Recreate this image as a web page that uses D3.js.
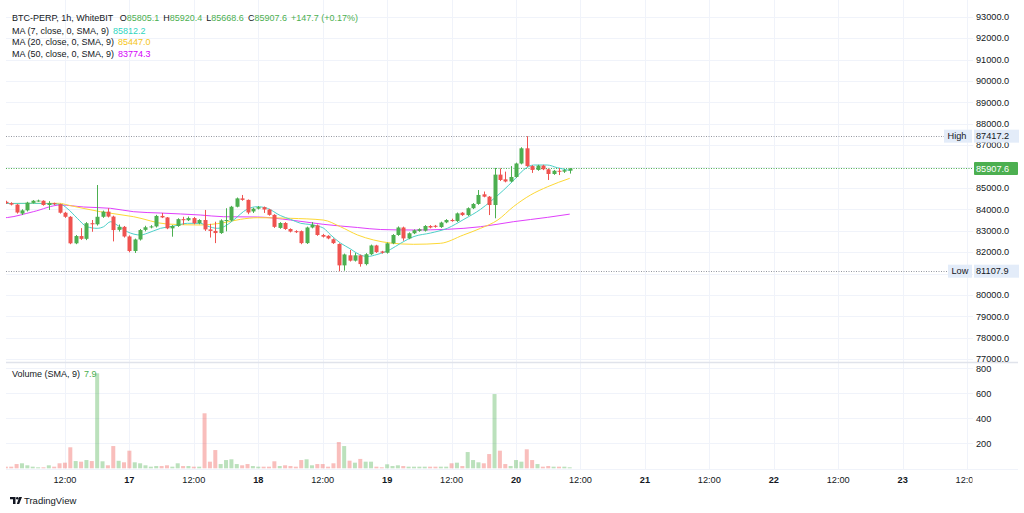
<!DOCTYPE html>
<html>
<head>
<meta charset="utf-8">
<script src="https://cdn.jsdelivr.net/npm/d3@7"></script>
<style>
  html, body { margin: 0; padding: 0; background: #fff; }
  svg { display: block; font-family: "Liberation Sans", Arial, sans-serif; }
</style>
</head>
<body>
<svg id="chart" width="1024" height="513"></svg>
<script>
// BTC-PERP 1h candles, first candle 16 Mar 2025 01:00 (UTC)
const firstCandle = Date.UTC(2025, 2, 16, 1);
const opens = [84350, 84290, 84220, 83800, 83950, 84300, 84390, 84400, 84200, 84290, 84240, 83840, 83650, 82410, 82750, 82620, 83350, 83300, 83650, 83890,
  83660, 83040, 83180, 82730, 82050, 82590, 83040, 83160, 83200, 83690, 83620, 83110, 83220, 83540, 83490, 83590, 83350, 83500, 83060, 82990,
  82890, 83460, 83480, 84120, 84510, 84440, 83900, 84030, 84100, 83990, 83740, 83130, 83360, 83080, 82980, 82980, 82420, 83150, 83250, 82800,
  82760, 82600, 82380, 81380, 81850, 81600, 81850, 81440, 81900, 82310, 82030, 81970, 82410, 82800, 83150, 82640, 82880, 82990, 83000, 83220,
  83230, 83170, 83390, 83500, 83450, 83840, 83730, 84050, 84250, 84700, 84590, 84200, 85620, 85400, 85300, 85510, 86140, 86850, 86020, 85840,
  86040, 85870, 85650, 85800, 85760, 85805.1];
const highs = [84400, 84330, 84250, 84000, 84350, 84430, 84450, 84420, 84380, 84310, 84260, 83880, 83680, 82800, 83120, 83400, 83500, 85135, 83940, 84050,
  83700, 83290, 83220, 82780, 82630, 83080, 83230, 83260, 83740, 83830, 83640, 83260, 83580, 83650, 83660, 83640, 83540, 83970, 83320, 83420,
  83530, 84050, 84160, 84550, 84670, 84460, 84070, 84150, 84130, 84020, 83770, 83400, 83400, 83110, 83020, 83010, 83190, 83400, 83290, 82850,
  82790, 82640, 82410, 81930, 82100, 81960, 81880, 81950, 82350, 82340, 82060, 82450, 82840, 83200, 83190, 82920, 83060, 83110, 83260, 83260,
  83270, 83420, 83540, 83560, 83850, 83870, 84090, 84290, 84900, 84830, 84620, 85930, 85910, 85760, 86020, 86180, 86900, 87417.2, 86060, 86080,
  86080, 85900, 85840, 85930, 85880, 85920.4];
const lows = [84250, 84180, 83800, 83730, 83900, 84270, 84350, 84170, 83970, 84200, 83800, 83600, 82370, 82370, 82570, 82560, 82950, 83240, 83600, 83620,
  82500, 82960, 82680, 81990, 81960, 82540, 82970, 83110, 83150, 83590, 83070, 82720, 83180, 83280, 83450, 83300, 83300, 82990, 82680, 82420,
  82850, 82970, 83440, 84090, 84400, 83770, 83830, 83990, 83830, 83700, 83130, 83090, 83040, 82920, 82890, 82370, 82380, 83110, 82760, 82680,
  82600, 82380, 81107.9, 81130, 81560, 81560, 81320, 81380, 81860, 81960, 81930, 81930, 82370, 82760, 82530, 82600, 82840, 82950, 82960, 83110,
  83140, 83130, 83350, 83420, 83410, 83690, 83690, 84010, 84210, 84560, 83730, 83580, 85320, 85260, 85260, 85470, 86100, 85980, 85700, 85800,
  85830, 85370, 85610, 85600, 85700, 85668.6];
const closes = [84290, 84220, 83850, 83950, 84310, 84400, 84410, 84200, 84290, 84240, 83840, 83650, 82410, 82750, 82620, 83350, 83300, 83650, 83890, 83660,
  83030, 83180, 82730, 82050, 82590, 83030, 83160, 83200, 83690, 83620, 83110, 83220, 83540, 83490, 83590, 83350, 83500, 83060, 82990, 82890,
  83480, 83500, 84120, 84510, 84440, 83850, 84030, 84100, 83990, 83740, 83180, 83360, 83080, 82960, 82930, 82420, 83150, 83280, 82800, 82720,
  82640, 82420, 81380, 81890, 81600, 81850, 81440, 81900, 82310, 82000, 81970, 82410, 82800, 83150, 82640, 82880, 83020, 83070, 83220, 83150,
  83180, 83380, 83500, 83450, 83810, 83730, 84050, 84250, 84670, 84590, 84200, 85620, 85370, 85300, 85510, 86140, 86850, 86020, 85840, 86040,
  85870, 85650, 85800, 85760, 85830, 85907.6];
const volumes = [13, 13, 34, 40, 24, 13, 8, 8, 24, 13, 40, 45, 168, 58, 53, 66, 58, 760, 56, 24,
  178, 60, 48, 141, 48, 40, 24, 13, 18, 18, 24, 13, 40, 18, 18, 13, 13, 440, 53, 146,
  34, 66, 72, 34, 24, 34, 18, 13, 13, 13, 56, 18, 24, 18, 13, 66, 72, 24, 34, 34,
  13, 40, 210, 178, 61, 45, 75, 53, 53, 13, 8, 32, 18, 24, 18, 13, 13, 13, 13, 13,
  13, 13, 13, 40, 45, 18, 130, 66, 48, 40, 114, 594, 141, 34, 18, 66, 53, 152, 66, 34,
  13, 18, 13, 13, 13, 8];

// moving averages: [hours after 16 Mar 00:00, value]
const ma7 = [[0, 84270], [6, 84280], [11.2, 84233], [12.4, 84046], [14.3, 83579], [16.1, 83186], [18, 83111], [19.2, 83186], [20.5, 83420], [21.7, 83266],
  [23.6, 82953], [26.1, 82799], [27.3, 82877], [29.8, 83111], [32.3, 83219], [34.8, 83345], [37.2, 83345], [38.5, 83219], [40.4, 83111], [41.6, 83186],
  [43.4, 83499], [45.9, 84000], [47.8, 84121], [49.7, 84046], [52.1, 83710], [54, 83532], [55.9, 83345], [57.7, 83289], [59, 83219], [60.2, 83111],
  [61.5, 82799], [63.3, 82425], [65.2, 82144], [66.4, 81943], [68.3, 81794], [70.1, 81887], [72.6, 82121], [74.5, 82410], [77, 82728], [80.1, 82892],
  [83.2, 83111], [86.3, 83532], [89.4, 84000], [91.2, 84355], [93.7, 84901], [95.6, 85369], [97.4, 85836], [99.3, 86069], [101.8, 86069], [103.7, 85943],
  [106, 85812.2]];
const ma20 = [[0, 84270], [11, 84280], [12.5, 84200], [18.6, 83887], [24.8, 83654], [31, 83312], [37.2, 83266], [41.5, 83373], [44.7, 83532], [47.9, 83607],
  [54, 83579], [60.1, 83499], [63.3, 83186], [66.5, 82799], [69.5, 82565], [72.6, 82425], [76.9, 82364], [81.9, 82410], [86.2, 82799], [89.4, 83111],
  [92.6, 83499], [95.5, 84121], [98.7, 84668], [101.9, 85056], [106, 85447.0]];
const ma50 = [[0, 83593], [1.3, 83616], [6.1, 83887], [11.2, 84200], [15.5, 84107], [20.5, 84046], [24.8, 83887], [29.8, 83826], [37.2, 83733], [41.5, 83654],
  [47.9, 83640], [54, 83499], [60.1, 83299], [66.5, 83149], [70.8, 83055], [76.9, 83032], [83.2, 83065], [89.4, 83186], [95.5, 83420], [101.9, 83625],
  [106, 83774.3]];

const priceTicks = [77000, 78000, 79000, 80000, 81000, 82000, 83000, 84000, 85000, 86000, 87000, 88000, 89000, 90000, 91000, 92000, 93000];
const hiddenPriceTicks = [81000, 86000]; // covered by the Low / last price labels
const volumeTicks = [200, 400, 600, 800];
const timeTickHours = [12, 24, 36, 48, 60, 72, 84, 96, 108, 120, 132, 144, 156, 168, 180];
const timeTickLabels = ["12:00", "17", "12:00", "18", "12:00", "19", "12:00", "20", "12:00", "21", "12:00", "22", "12:00", "23", "12:00"];

const upColor = "#4caf50", downColor = "#ef5350";
const upVol = "rgba(76,175,80,0.38)", downVol = "rgba(239,83,80,0.38)";
const textColor = "#131722";
const gridColor = "#f0f3fa";

const candles = opens.map((o, i) => ({
  t: new Date(firstCandle + i * 3600e3),
  o, h: highs[i], l: lows[i], c: closes[i], v: volumes[i]
}));
const hour = h => new Date(Date.UTC(2025, 2, 16) + h * 3600e3);

const plotLeft = 6, plotRight = 973, priceTop = 0, priceBottom = 362, volBottom = 469;

const svg = d3.select("#chart");

const x = d3.scaleUtc()
  .domain([hour(0), hour(180)])
  .range([0.5, 0.5 + 5.37 * 180]);
const y = d3.scaleLinear().domain([77000, 93000]).range([359.1, 16.7]);
const yv = d3.scaleLinear().domain([0, 800]).range([468.3, 368.3]);

const defs = svg.append("defs");
defs.append("clipPath").attr("id", "clipPrice")
  .append("rect").attr("x", plotLeft).attr("y", priceTop).attr("width", plotRight - plotLeft).attr("height", priceBottom - priceTop);
defs.append("clipPath").attr("id", "clipVol")
  .append("rect").attr("x", plotLeft).attr("y", priceBottom).attr("width", plotRight - plotLeft).attr("height", volBottom - priceBottom);

// grid
const grid = svg.append("g").attr("stroke", gridColor).attr("stroke-width", 1);
grid.selectAll(".vg").data(timeTickHours).enter().append("line")
  .attr("x1", d => Math.round(x(hour(d))) + 0.5).attr("x2", d => Math.round(x(hour(d))) + 0.5)
  .attr("y1", priceTop).attr("y2", volBottom);
grid.selectAll(".hg").data(priceTicks).enter().append("line")
  .attr("x1", plotLeft).attr("x2", plotRight)
  .attr("y1", d => Math.round(y(d)) + 0.5).attr("y2", d => Math.round(y(d)) + 0.5);
grid.selectAll(".vgv").data(volumeTicks).enter().append("line")
  .attr("x1", plotLeft).attr("x2", plotRight)
  .attr("y1", d => Math.round(yv(d)) + 0.5).attr("y2", d => Math.round(yv(d)) + 0.5);

// pane separator and time axis line
svg.append("line").attr("x1", plotLeft).attr("x2", 1018).attr("y1", priceBottom + 0.5).attr("y2", priceBottom + 0.5)
  .attr("stroke", "#e0e3eb").attr("stroke-width", 1.5);
svg.append("line").attr("x1", plotLeft).attr("x2", 1018).attr("y1", volBottom + 0.5).attr("y2", volBottom + 0.5)
  .attr("stroke", "#f0f3fa");

// volume bars
const volG = svg.append("g").attr("clip-path", "url(#clipVol)");
volG.selectAll("rect").data(candles).enter().append("rect")
  .attr("x", d => x(d.t) - 2)
  .attr("width", 4)
  .attr("y", d => yv(d.v))
  .attr("height", d => yv(0) - yv(d.v))
  .attr("fill", d => d.c >= d.o ? upVol : downVol);

// price pane
const priceG = svg.append("g").attr("clip-path", "url(#clipPrice)");

// high / low / last price dotted lines
const hi = d3.max(highs), lo = d3.min(lows), last = closes[closes.length - 1];
priceG.append("line").attr("x1", plotLeft).attr("x2", 944)
  .attr("y1", Math.round(y(hi)) + 0.5).attr("y2", Math.round(y(hi)) + 0.5)
  .attr("stroke", "#9598a1").attr("stroke-dasharray", "1,1.5");
priceG.append("line").attr("x1", plotLeft).attr("x2", 948)
  .attr("y1", Math.round(y(lo)) + 0.5).attr("y2", Math.round(y(lo)) + 0.5)
  .attr("stroke", "#9598a1").attr("stroke-dasharray", "1,1.5");
priceG.append("line").attr("x1", plotLeft).attr("x2", plotRight)
  .attr("y1", Math.round(y(last)) + 0.5).attr("y2", Math.round(y(last)) + 0.5)
  .attr("stroke", upColor).attr("stroke-dasharray", "1,1.5");

// moving averages
const maLine = d3.line()
  .x(d => x(hour(d[0])))
  .y(d => y(d[1]))
  .curve(d3.curveMonotoneX);
[[ma50, "#e040fb"], [ma20, "#fdd835"], [ma7, "#4dd0c8"]].forEach(([pts, col]) => {
  priceG.append("path").datum(pts)
    .attr("d", maLine)
    .attr("fill", "none")
    .attr("stroke", col)
    .attr("stroke-width", 1);
});

// candles
const cg = priceG.selectAll(".candle").data(candles).enter().append("g");
cg.append("line")
  .attr("x1", d => Math.round(x(d.t)) + 0.5).attr("x2", d => Math.round(x(d.t)) + 0.5)
  .attr("y1", d => y(d.h)).attr("y2", d => y(d.l))
  .attr("stroke", d => d.c >= d.o ? upColor : downColor);
cg.append("rect")
  .attr("x", d => Math.round(x(d.t)) - 1.5)
  .attr("width", 4)
  .attr("y", d => y(Math.max(d.o, d.c)))
  .attr("height", d => Math.max(1, Math.abs(y(d.o) - y(d.c))))
  .attr("fill", d => d.c >= d.o ? upColor : downColor);

// right price axis
const axisG = svg.append("g").attr("font-size", 9.2).attr("fill", textColor);
axisG.selectAll(".pt").data(priceTicks.filter(d => !hiddenPriceTicks.includes(d))).enter().append("text")
  .attr("x", 976).attr("y", d => y(d) + 3.3)
  .text(d => d3.format(".1f")(d));
axisG.selectAll(".vt").data(volumeTicks).enter().append("text")
  .attr("x", 976).attr("y", d => yv(d) + 3.3)
  .text(d => d);

// High / Low tags
function tag(label, value, yPos, labelX) {
  const g = svg.append("g");
  g.append("rect").attr("x", labelX).attr("y", yPos - 6.5).attr("width", 972 - labelX).attr("height", 13)
    .attr("fill", "#e3ecf9");
  g.append("text").attr("x", labelX + 3.5).attr("y", yPos + 3.2).attr("font-size", 9.2).attr("fill", textColor).text(label);
  g.append("rect").attr("x", 974).attr("y", yPos - 6.5).attr("width", 45).attr("height", 13)
    .attr("fill", "#e3ecf9");
  g.append("text").attr("x", 976).attr("y", yPos + 3.2).attr("font-size", 9.2).attr("fill", textColor)
    .text(d3.format(".1f")(value));
}
tag("High", hi, y(hi), 944);
tag("Low", lo, y(lo), 948);

// last price tag
svg.append("rect").attr("x", 974).attr("y", y(last) - 6.5).attr("width", 44).attr("height", 13)
  .attr("fill", upColor).attr("rx", 1);
svg.append("text").attr("x", 976).attr("y", y(last) + 3.2).attr("font-size", 9.2).attr("fill", "#fff")
  .text(d3.format(".1f")(last));

// time axis
svg.append("g").selectAll("text").data(timeTickHours).enter().append("text")
  .attr("x", d => x(hour(d)))
  .attr("y", 482.5)
  .attr("text-anchor", "middle")
  .attr("font-size", 9.2)
  .attr("font-weight", (d, i) => timeTickLabels[i] === "12:00" ? "normal" : "bold")
  .attr("fill", textColor)
  .text((d, i) => timeTickLabels[i]);
// price scale covers the right end of the time axis
svg.append("rect").attr("x", plotRight - 0.5).attr("y", 470).attr("width", 60).attr("height", 18).attr("fill", "#fff");

// legend
const lastC = candles[candles.length - 1];
const legend = svg.append("g").attr("font-size", 9).attr("fill", textColor);
const l1 = legend.append("text").attr("x", 12).attr("y", 20.5);
l1.append("tspan").text("BTC-PERP, 1h, WhiteBIT ");
[["O", lastC.o], ["H", lastC.h], ["L", lastC.l], ["C", lastC.c]].forEach(([k, v]) => {
  l1.append("tspan").attr("dx", 4).text(k);
  l1.append("tspan").attr("fill", upColor).text(d3.format(".1f")(v));
});
l1.append("tspan").attr("dx", 4).attr("fill", upColor).text("+147.7 (+0.17%)");

const maLegend = [["MA (7, close, 0, SMA, 9)", ma7, "#2fd5c0"], ["MA (20, close, 0, SMA, 9)", ma20, "#f5c518"], ["MA (50, close, 0, SMA, 9)", ma50, "#d500f9"]];
maLegend.forEach(([name, pts, col], i) => {
  const t = legend.append("text").attr("x", 12).attr("y", 33.5 + i * 11.6);
  t.append("tspan").text(name);
  t.append("tspan").attr("dx", 4).attr("fill", col).text(d3.format(".1f")(pts[pts.length - 1][1]));
});

const vl = legend.append("text").attr("x", 12).attr("y", 376.5);
vl.append("tspan").text("Volume (SMA, 9)");
vl.append("tspan").attr("dx", 4).attr("fill", upColor).text("7.9");

// TradingView mark
const logo = svg.append("g").attr("transform", "translate(10,497)").attr("fill", textColor);
logo.append("path").attr("d", "M0,0 H5.5 V7 H3 V2.3 H0 Z");
logo.append("circle").attr("cx", 7.3).attr("cy", 1.3).attr("r", 1.3);
logo.append("path").attr("d", "M9.2,0 H12 L9.2,7 H6.8 Z");
svg.append("text").attr("x", 24).attr("y", 504).attr("font-size", 9.5).attr("fill", textColor).text("TradingView");
</script>
</body>
</html>
